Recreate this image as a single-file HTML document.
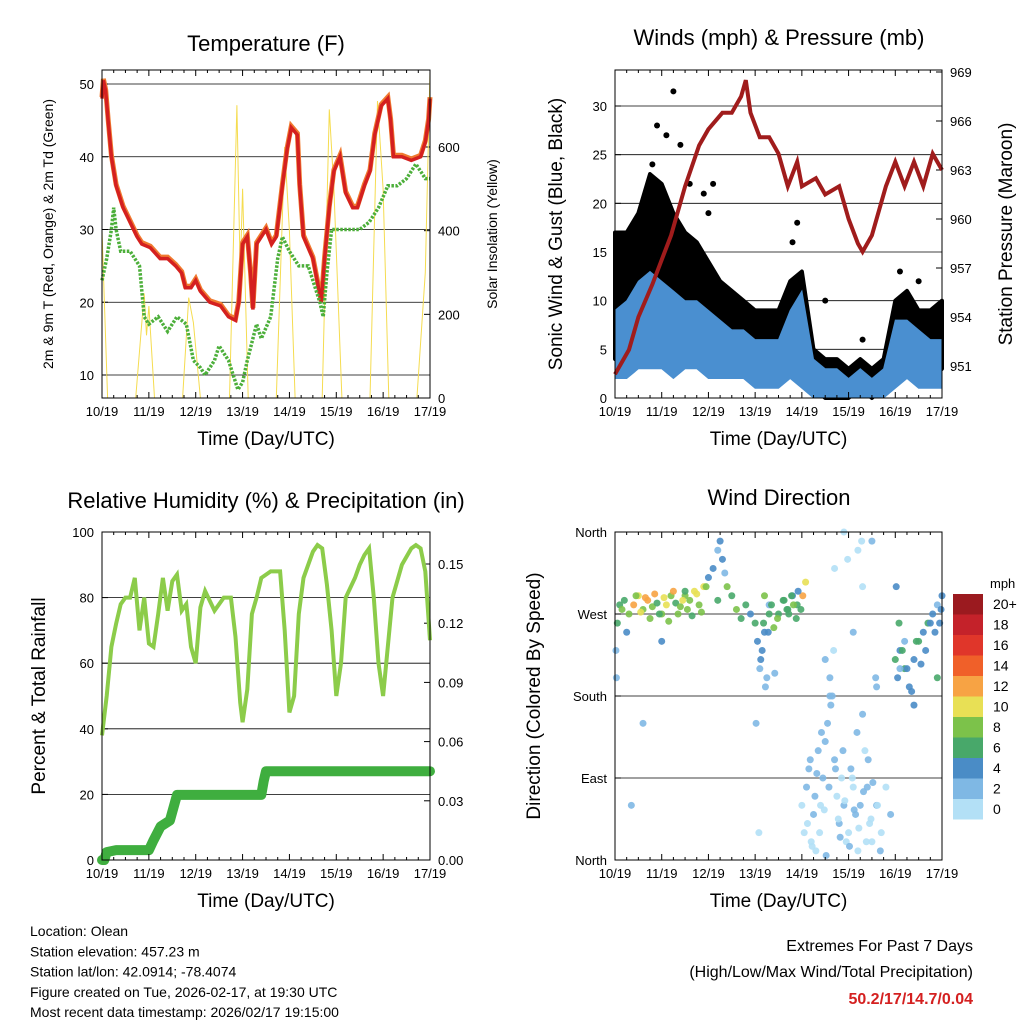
<!DOCTYPE html>
<html><head><meta charset="utf-8">
<style>
body{margin:0;background:#fff}
svg{display:block;font-family:"Liberation Sans",sans-serif}
</style></head>
<body>
<svg id="chart" width="1024" height="1024" viewBox="0 0 1024 1024"></svg>
<script>
// ---------- DATA ----------
const dayLabels=["10/19","11/19","12/19","13/19","14/19","15/19","16/19","17/19"];
const tempT=[[0,48],[0.03,50.5],[0.08,49],[0.13,45],[0.2,40],[0.3,36],[0.45,33],[0.6,31],[0.75,29],[0.85,28],[1.03,27.5],[1.24,26],[1.4,26],[1.57,25],[1.7,24],[1.78,22],[1.9,22],[2.0,23],[2.1,21.5],[2.3,20],[2.53,19.5],[2.7,18],[2.85,17.5],[2.92,20],[3.0,28],[3.1,29],[3.17,24],[3.22,19],[3.3,28],[3.5,30],[3.62,28],[3.72,29],[3.85,36],[3.95,41],[4.04,44],[4.17,43],[4.22,36],[4.3,29],[4.5,26],[4.62,22],[4.68,20],[4.75,26],[4.85,33],[4.95,38],[5.08,40],[5.2,35],[5.35,33],[5.45,33],[5.6,36],[5.72,38],[5.82,43],[5.96,47],[6.1,48],[6.16,45],[6.22,40],[6.4,40],[6.6,39.5],[6.8,40],[6.9,42],[6.97,45],[7.0,48]];
const tempTd=[[0,23],[0.1,26],[0.2,30],[0.25,33],[0.3,30],[0.4,27],[0.6,27],[0.8,25],[0.9,18],[1.0,17],[1.2,18],[1.4,16],[1.6,18],[1.8,17],[1.95,12],[2.1,11],[2.2,10],[2.4,12],[2.5,14],[2.7,12],[2.8,10],[2.9,8],[3.0,9],[3.1,12],[3.3,17],[3.4,15],[3.6,18],[3.75,26],[3.85,29],[4.0,27],[4.2,25],[4.4,25],[4.55,22],[4.65,20],[4.72,18],[4.8,24],[4.9,30],[5.0,30],[5.2,30],[5.5,30],[5.7,31],[5.9,33],[6.1,36],[6.3,36],[6.5,37],[6.7,39],[6.9,37],[7.0,37]];
const solar=[[0,400],[0.12,0],[0.72,0],[0.9,250],[0.95,150],[1.0,220],[1.12,0],[1.72,0],[1.85,240],[1.95,180],[2.1,0],[2.72,0],[2.88,700],[2.95,300],[3.0,500],[3.12,0],[3.72,0],[3.9,600],[4.0,400],[4.12,0],[4.7,0],[4.85,690],[4.95,500],[5.12,0],[5.72,0],[5.88,710],[6.0,500],[6.12,0],[6.72,0],[6.9,300],[7.0,780]];
const pressure=[[0,950.5],[0.3,952],[0.5,954],[0.8,956],[1.0,957.5],[1.2,959],[1.5,962],[1.8,964.5],[2.0,965.5],[2.3,966.5],[2.5,966.5],[2.7,967.5],[2.8,968.5],[2.9,966.5],[3.1,965],[3.3,965],[3.5,964],[3.7,962],[3.9,963.5],[4.0,962],[4.3,962.5],[4.5,961.5],[4.8,962],[5.0,960],[5.2,958.5],[5.3,958],[5.5,959],[5.8,962],[6.0,963.5],[6.2,962],[6.4,963.5],[6.6,962],[6.8,964],[7.0,963]];
const windTimes=[0,0.25,0.5,0.75,1,1.25,1.5,1.75,2,2.25,2.5,2.75,3,3.25,3.5,3.75,4,4.25,4.5,4.75,5,5.25,5.5,5.75,6,6.25,6.5,6.75,7];
const windHigh=[9,10,12,13,12,11,10,10,9,8,7,7,6,6,6,9,11,4,3,3,2,3,2,3,8,8,7,6,6];
const windLow=[2,2,3,3,3,2,3,3,2,2,2,2,1,1,1,2,1,0,0,0,0,0,0,0,1,2,1,1,1];
const gustHigh=[17,17,19,23,22,19,17,16,14,12,11,10,9,9,9,12,13,5,4,4,3,4,3,4,10,11,9,9,10];
const gustLow=[4,5,7,8,8,6,6,6,5,4,4,3,2,3,3,4,3,1,0,0,0,1,0,1,2,4,3,2,3];
const gustOutT=[1.25,0.9,1.1,1.4,2.1,1.9,3.9,4.5,5.3,0.6,0.8,1.6,2.0,3.8,6.5,6.1];
const gustOut=[31.5,28,27,26,22,21,18,10,6,20,24,22,19,16,12,13];
const rh=[[0,38],[0.1,50],[0.2,65],[0.3,72],[0.4,78],[0.5,80],[0.6,80],[0.7,86],[0.8,70],[0.9,80],[1.0,66],[1.1,65],[1.2,75],[1.3,86],[1.4,76],[1.5,85],[1.6,87],[1.7,76],[1.8,78],[1.9,65],[2.0,60],[2.1,77],[2.2,82],[2.4,76],[2.6,80],[2.75,80],[2.85,68],[2.95,48],[3.0,42],[3.1,52],[3.2,75],[3.3,80],[3.4,86],[3.6,88],[3.8,88],[3.9,70],[4.0,45],[4.1,50],[4.2,75],[4.3,86],[4.5,94],[4.6,96],[4.7,95],[4.8,84],[4.9,70],[5.0,50],[5.1,60],[5.2,80],[5.4,86],[5.5,90],[5.6,93],[5.7,95],[5.8,80],[5.9,60],[6.0,50],[6.1,65],[6.2,80],[6.4,90],[6.6,95],[6.7,96],[6.8,95],[6.9,88],[7.0,67]];
const precip=[[0,0],[0.05,0],[0.1,0.004],[0.3,0.005],[1.0,0.005],[1.1,0.01],[1.25,0.017],[1.45,0.02],[1.6,0.033],[3.4,0.033],[3.45,0.04],[3.5,0.045],[7.0,0.045]];
const dirT=[0.05,0.1,0.15,0.2,0.3,0.4,0.5,0.6,0.7,0.8,0.9,1.0,1.1,1.2,1.3,1.4,1.5,1.6,1.7,1.8,1.9,2.0,2.1,2.2,2.25,2.3,2.35,2.4,2.5,2.6,2.7,2.8,2.9,3.0,3.05,3.1,3.15,3.2,3.25,3.3,3.4,3.5,3.6,3.7,3.8,3.9,4.0,4.05,4.1,4.15,4.2,4.25,4.3,4.35,4.4,4.45,4.5,4.55,4.6,4.65,4.7,4.75,4.8,4.85,4.9,4.95,5.0,5.05,5.1,5.15,5.2,5.25,5.3,5.35,5.4,5.45,5.5,5.6,5.7,5.8,5.9,6.0,6.05,6.1,6.2,6.3,6.4,6.5,6.6,6.7,6.8,6.9,6.95,7.0,0.02,0.03,0.6,1.0,1.5,2.2,3.2,3.3,4.5,4.6,4.7,4.9,5.1,5.2,5.3,5.5,5.6,6.1,6.2,6.4,6.9,
0.25,0.35,0.45,0.55,0.65,0.75,0.85,0.95,1.05,1.15,1.25,1.35,1.45,1.55,1.65,1.75,1.85,1.95,
4.02,4.08,4.12,4.18,4.22,4.28,4.32,4.38,4.42,4.48,4.52,4.58,4.62,4.68,4.72,4.78,4.82,4.88,4.92,4.98,5.02,5.08,5.12,5.18,5.22,5.28,5.32,5.38,5.42,5.48,5.52,5.58,5.62,5.68,
3.02,3.08,3.12,3.18,3.22,3.28,3.35,3.42,3.48,3.62,3.68,3.72,3.78,3.82,3.88,3.92,3.98,
6.02,6.08,6.15,6.25,6.35,6.45,6.55,6.65,6.75,6.85,6.98];
const dirV=[260,280,275,285,270,280,290,275,285,278,282,270,280,290,282,278,290,285,295,280,300,310,320,340,350,330,315,300,290,275,265,280,270,260,240,210,230,250,200,270,255,270,285,275,290,280,60,30,80,100,20,50,10,120,60,90,130,150,200,180,110,70,40,90,60,20,30,100,80,50,10,60,160,120,80,40,20,60,30,80,50,220,200,230,210,190,220,240,250,260,270,280,260,290,230,200,150,240,295,285,290,280,220,180,320,360,250,340,300,350,190,210,240,170,200,250,60,
290,272,288,265,292,270,288,262,295,270,285,275,268,292,272,300,290,305,
40,110,15,70,95,30,140,55,5,80,170,230,100,45,25,120,65,330,15,90,55,140,35,350,75,20,110,45,85,200,60,10,150,30,
220,260,190,250,280,205,265,285,275,270,290,280,265,295,275,300,260,
230,210,185,240,215,230,260,250,275,265,290];
const dirS=[6,7,8,7,9,12,11,8,12,9,7,8,10,9,7,8,9,8,11,8,10,4,4,3,4,4,3,8,6,8,7,6,5,6,4,3,4,5,3,6,8,7,6,7,4,6,1,1,2,2,1,2,1,2,1,2,3,2,2,3,2,1,2,1,2,1,1,2,1,2,1,2,2,1,2,1,1,2,1,1,2,6,5,4,6,5,4,7,5,6,4,3,4,5,3,3,2,4,7,6,9,3,3,2,1,1,2,1,1,2,2,3,2,5,6,4,2,
8,10,12,9,13,7,11,9,12,8,10,9,7,11,8,9,12,10,
1,2,1,3,2,1,2,1,2,3,2,1,2,1,3,2,1,1,2,1,2,3,1,1,2,1,2,1,2,3,1,2,2,1,
4,6,3,5,7,3,8,6,7,7,6,8,7,5,6,4,7,
7,5,4,6,4,5,5,4,4,3,5];
const cbLabels=["20+","18","16","14","12","10","8","6","4","2","0"];
const cbColors=["#9b1a1f","#c4222a","#e0362a","#f06029","#f7a344","#e8e055","#7cc24a","#48a86a","#4a8cc6","#7fb8e4","#b3e0f6"];

// ---------- HELPERS ----------
const NS="http://www.w3.org/2000/svg";
const svg=document.getElementById('chart');
function mk(tag,attrs,parent,text){const e=document.createElementNS(NS,tag);for(const k in attrs)e.setAttribute(k,attrs[k]);if(text!==undefined)e.textContent=text;(parent||svg).appendChild(e);return e;}
function lin(d0,d1,r0,r1){return v=>r0+(v-d0)*(r1-r0)/(d1-d0);}
function pathOf(pts,xs,ys){return pts.map((p,i)=>(i?'L':'M')+xs(p[0]).toFixed(1)+' '+ys(p[1]).toFixed(1)).join(' ');}
function speedColor(s){let i=Math.min(10,Math.floor(s/2));return cbColors[10-i];}

function panel(name,x0,x1,y0,y1){
  const g=mk('g',{});
  
  
  const xs=lin(0,7,x0,x1);
  return {g,x0,x1,y0,y1,xs};
}
function frame(P){
  const r=mk('rect',{x:P.x0,y:P.y0,width:P.x1-P.x0,height:P.y1-P.y0,fill:'none',stroke:'#000','stroke-width':1},P.g);
  
  
}
function xAxis(P,title){
  dayLabels.forEach((l,i)=>{
    const x=P.xs(i);
    mk('line',{x1:x,x2:x,y1:P.y1,y2:P.y1-6,stroke:'#000'},P.g);
    mk('line',{x1:x,x2:x,y1:P.y0,y2:P.y0+6,stroke:'#000'},P.g);
    for(let k=1;k<4&&i<7;k++){const xm=P.xs(i+k/4);mk('line',{x1:xm,x2:xm,y1:P.y1,y2:P.y1-3,stroke:'#000'},P.g);mk('line',{x1:xm,x2:xm,y1:P.y0,y2:P.y0+3,stroke:'#000'},P.g);}
    const t=mk('text',{x:x,y:P.y1+18,'font-size':13,'text-anchor':'middle'},P.g,l);
    
    
  });
  const t=mk('text',{x:(P.x0+P.x1)/2,y:P.y1+47,'font-size':19,'text-anchor':'middle'},P.g,title);
  
  
}
function yTicks(P,vals,ys,side,fmt,grid){
  vals.forEach(v=>{
    const y=ys(v);
    if(grid)mk('line',{x1:P.x0,x2:P.x1,y1:y,y2:y,stroke:'#000','stroke-width':0.8},P.g);
    const xa=side==='l'?P.x0:P.x1;
    mk('line',{x1:xa,x2:side==='l'?xa+6:xa-6,y1:y,y2:y,stroke:'#000'},P.g);
    const t=mk('text',{x:side==='l'?P.x0-8:P.x1+8,y:y+5,'font-size':13,'text-anchor':side==='l'?'end':'start'},P.g,fmt(v));
    
    
  });
}
function yTitle(P,x,text,size){
  const t=mk('text',{x:x,y:(P.y0+P.y1)/2,'font-size':size||19,'text-anchor':'middle',transform:`rotate(-90 ${x} ${(P.y0+P.y1)/2})`},P.g,text);
  
  
}
function title(P,x,y,text){
  const t=mk('text',{x:x,y:y,'font-size':22,'text-anchor':'middle'},P.g,text);
  
  
}

// ---------- PANEL 1: TEMPERATURE ----------
{
const P=panel('temperature-panel',102,430,70,398);
const yT=lin(10,50,375,84), yS=lin(0,600,398,147);
yTicks(P,[10,20,30,40,50],yT,'l',v=>v,true);
yTicks(P,[0,200,400,600],yS,'r',v=>v,false);
const s=mk('path',{d:pathOf(solar,P.xs,yS),fill:'none',stroke:'#f5dc50','stroke-width':1},P.g);

const o=mk('path',{d:pathOf(tempT,P.xs,v=>yT(v)-1.5),fill:'none',stroke:'#f07a30','stroke-width':5},P.g);

const r=mk('path',{d:pathOf(tempT,P.xs,yT),fill:'none',stroke:'#d42020','stroke-width':3.5},P.g);

const g=mk('path',{d:pathOf(tempTd,P.xs,yT),fill:'none',stroke:'#4caf3a','stroke-width':3.5,'stroke-dasharray':'2.5 1.5'},P.g);

frame(P);xAxis(P,'Time (Day/UTC)');
title(P,266,51,'Temperature (F)');
yTitle(P,53,'2m & 9m T (Red, Orange) & 2m Td (Green)',14);
yTitle(P,497,'Solar Insolation (Yellow)',14);
}

// ---------- PANEL 2: WINDS ----------
{
const P=panel('winds-panel',615,942,70,398);
const yW=lin(0,30,398,106), yP=lin(951,969,366,72);
yTicks(P,[0,5,10,15,20,25,30],yW,'l',v=>v,true);
yTicks(P,[951,954,957,960,963,966,969],yP,'r',v=>v,false);
const band=(hi,lo)=>{const a=windTimes.map((t,i)=>[t,hi[i]]),b=windTimes.map((t,i)=>[t,lo[i]]).reverse();return pathOf(a.concat(b),P.xs,yW)+'Z';};
const gb=mk('path',{d:band(gustHigh,gustLow),fill:'#000',stroke:'#000','stroke-width':4,'stroke-linejoin':'round'},P.g);

gustOutT.forEach((t,i)=>{const c=mk('circle',{cx:P.xs(t),cy:yW(gustOut[i]),r:3,fill:'#000'},P.g);
});
const wb=mk('path',{d:band(windHigh,windLow),fill:'#4a8fd0',stroke:'#4a8fd0','stroke-width':1},P.g);

const pl=mk('path',{d:pathOf(pressure,P.xs,yP),fill:'none',stroke:'#a01c1c','stroke-width':4},P.g);

frame(P);xAxis(P,'Time (Day/UTC)');
title(P,779,45,'Winds (mph) & Pressure (mb)');
yTitle(P,562,'Sonic Wind & Gust (Blue, Black)');
yTitle(P,1012,'Station Pressure (Maroon)');
}

// ---------- PANEL 3: RH ----------
{
const P=panel('humidity-panel',102,430,532,860);
const yR=lin(0,100,860,532), yQ=lin(0,0.15,860,564);
yTicks(P,[0,20,40,60,80,100],yR,'l',v=>v,true);
yTicks(P,[0,0.03,0.06,0.09,0.12,0.15],yQ,'r',v=>v.toFixed(2),false);
const q=mk('path',{d:pathOf(precip,P.xs,yQ),fill:'none',stroke:'#3fae3f','stroke-width':10,'stroke-linejoin':'round','stroke-linecap':'round'},P.g);

const h=mk('path',{d:pathOf(rh,P.xs,yR),fill:'none',stroke:'#8ccc4a','stroke-width':4},P.g);

frame(P);xAxis(P,'Time (Day/UTC)');
title(P,266,508,'Relative Humidity (%) & Precipitation (in)');
yTitle(P,45,'Percent & Total Rainfall');
}

// ---------- PANEL 4: WIND DIRECTION ----------
{
const P=panel('wind-direction-panel',615,942,532,860);
const yD=lin(0,360,860,532);
const names=["North","East","South","West","North"];
[0,90,180,270,360].forEach((v,i)=>{const y=yD(v);
  if(i>0&&i<4)mk('line',{x1:P.x0,x2:P.x1,y1:y,y2:y,stroke:'#000','stroke-width':0.8},P.g);
  mk('line',{x1:P.x0,x2:P.x0+6,y1:y,y2:y,stroke:'#000'},P.g);
  const t=mk('text',{x:P.x0-8,y:y+5,'font-size':13,'text-anchor':'end'},P.g,names[i]);
  });
dirT.forEach((t,i)=>{const c=mk('circle',{cx:P.xs(t),cy:yD(dirV[i]),r:3.5,fill:speedColor(dirS[i]),'fill-opacity':0.9},P.g);
});
frame(P);xAxis(P,'Time (Day/UTC)');
title(P,779,505,'Wind Direction');
yTitle(P,540,'Direction (Colored By Speed)');
const cb=mk('g',{});

mk('text',{x:990,y:588,'font-size':13},cb,'mph');
cbLabels.forEach((l,i)=>{const y=594+i*20.5;
  const r=mk('rect',{x:953,y:y,width:30,height:20.5,fill:cbColors[i]},cb);
  
  mk('text',{x:993,y:y+15,'font-size':14},cb,l);});
}

// ---------- FOOTER ----------
const info=["Location: Olean","Station elevation: 457.23 m","Station lat/lon: 42.0914; -78.4074","Figure created on Tue, 2026-02-17, at 19:30 UTC","Most recent data timestamp: 2026/02/17 19:15:00"];
const fg=mk('g',{});

info.forEach((s,i)=>mk('text',{x:30,y:936+i*20.3,'font-size':14},fg,s));
const eg=mk('g',{});

mk('text',{x:973,y:951,'font-size':16,'text-anchor':'end'},eg,'Extremes For Past 7 Days');
mk('text',{x:973,y:977,'font-size':16,'text-anchor':'end'},eg,'(High/Low/Max Wind/Total Precipitation)');
mk('text',{x:973,y:1004,'font-size':16,'text-anchor':'end','font-weight':'bold',fill:'#d42020'},eg,'50.2/17/14.7/0.04');
</script>
</body></html>
